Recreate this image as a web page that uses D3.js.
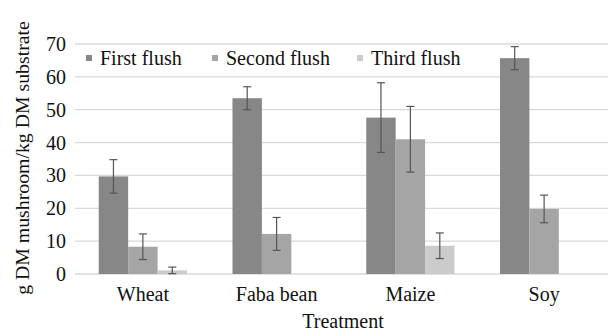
<!DOCTYPE html>
<html><head><meta charset="utf-8">
<script src="https://cdn.jsdelivr.net/npm/d3@7"></script>
<style>body{margin:0;background:#fff}svg{display:block}</style>
</head><body>
<svg id="c" width="611" height="333" font-family="'Liberation Serif', 'Times New Roman', Times, 'DejaVu Serif', serif"></svg>
<script>
const categories = ["Wheat", "Faba bean", "Maize", "Soy"];
const seriesNames = ["First flush", "Second flush", "Third flush"];
const firstFlush = [29.7, 53.5, 47.6, 65.7];
const secondFlush = [8.3, 12.2, 41.0, 19.8];
const thirdFlush = [1.1, null, 8.6, null];
const firstErr = [5.1, 3.5, 10.6, 3.5];
const secondErr = [3.9, 5.0, 10.0, 4.2];
const thirdErr = [1.0, null, 3.9, null];
const yTicks = [0, 10, 20, 30, 40, 50, 60, 70];
const colors = ["#878787", "#a5a5a5", "#cbcbcb"];

const values = [firstFlush, secondFlush, thirdFlush];
const errs = [firstErr, secondErr, thirdErr];

const svg = d3.select("#c");
const m = {left: 76, right: 611, top: 44, bottom: 274};
const x0 = d3.scaleBand().domain(categories).range([m.left, m.right]).paddingInner(0.34).paddingOuter(0.17);
const x1 = d3.scaleBand().domain(seriesNames).range([0, x0.bandwidth()]);
const y = d3.scaleLinear().domain([0, 70]).range([m.bottom, m.top]);

// gridlines
svg.append("g").selectAll("line").data(yTicks).join("line")
  .attr("x1", m.left - 1).attr("x2", 608)
  .attr("y1", d => y(d)).attr("y2", d => y(d))
  .attr("stroke", "#d9d9d9").attr("stroke-width", 1.3);

// y tick labels
svg.append("g").selectAll("text").data(yTicks).join("text")
  .attr("x", 66).attr("y", d => y(d)).attr("dy", "0.35em")
  .attr("text-anchor", "end").attr("font-size", 20).attr("fill", "#111").text(d => d);

// bars
const data = [];
seriesNames.forEach((s, si) => categories.forEach((c, ci) => {
  if (values[si][ci] != null) data.push({s, si, c, v: values[si][ci], e: errs[si][ci]});
}));
svg.append("g").selectAll("rect").data(data).join("rect")
  .attr("x", d => x0(d.c) + x1(d.s)).attr("width", x1.bandwidth())
  .attr("y", d => y(d.v)).attr("height", d => y(0) - y(d.v))
  .attr("fill", d => colors[d.si]);

// error bars
const eg = svg.append("g").attr("stroke", "#555").attr("stroke-width", 1.2);
data.forEach(d => {
  const cx = x0(d.c) + x1(d.s) + x1.bandwidth() / 2;
  const lo = Math.max(0, d.v - d.e), hi = d.v + d.e;
  eg.append("line").attr("x1", cx).attr("x2", cx).attr("y1", y(lo)).attr("y2", y(hi));
  eg.append("line").attr("x1", cx - 4).attr("x2", cx + 4).attr("y1", y(hi)).attr("y2", y(hi));
  eg.append("line").attr("x1", cx - 4).attr("x2", cx + 4).attr("y1", y(lo)).attr("y2", y(lo));
});

// x labels
svg.append("g").selectAll("text").data(categories).join("text")
  .attr("x", d => x0(d) + x0.bandwidth() / 2).attr("y", 301)
  .attr("text-anchor", "middle").attr("font-size", 20).attr("fill", "#111").text(d => d);

svg.append("text").attr("x", 343).attr("y", 328).attr("text-anchor", "middle")
  .attr("font-size", 20).attr("fill", "#111").text("Treatment");

svg.append("text").attr("transform", "translate(29,158) rotate(-90)")
  .attr("text-anchor", "middle").attr("font-size", 19.8).attr("fill", "#111")
  .text("g DM mushroom/kg DM substrate");

// legend
const legX = [86, 212, 357];
const lg = svg.append("g").selectAll("g").data(seriesNames).join("g")
  .attr("transform", (d, i) => `translate(${legX[i]},58)`);
lg.append("rect").attr("x", 0).attr("y", -3).attr("width", 6).attr("height", 6)
  .attr("fill", (d, i) => colors[i]);
lg.append("text").attr("x", 14).attr("dy", "0.35em").attr("font-size", 20).attr("fill", "#111").text(d => d);
</script>
</body></html>
